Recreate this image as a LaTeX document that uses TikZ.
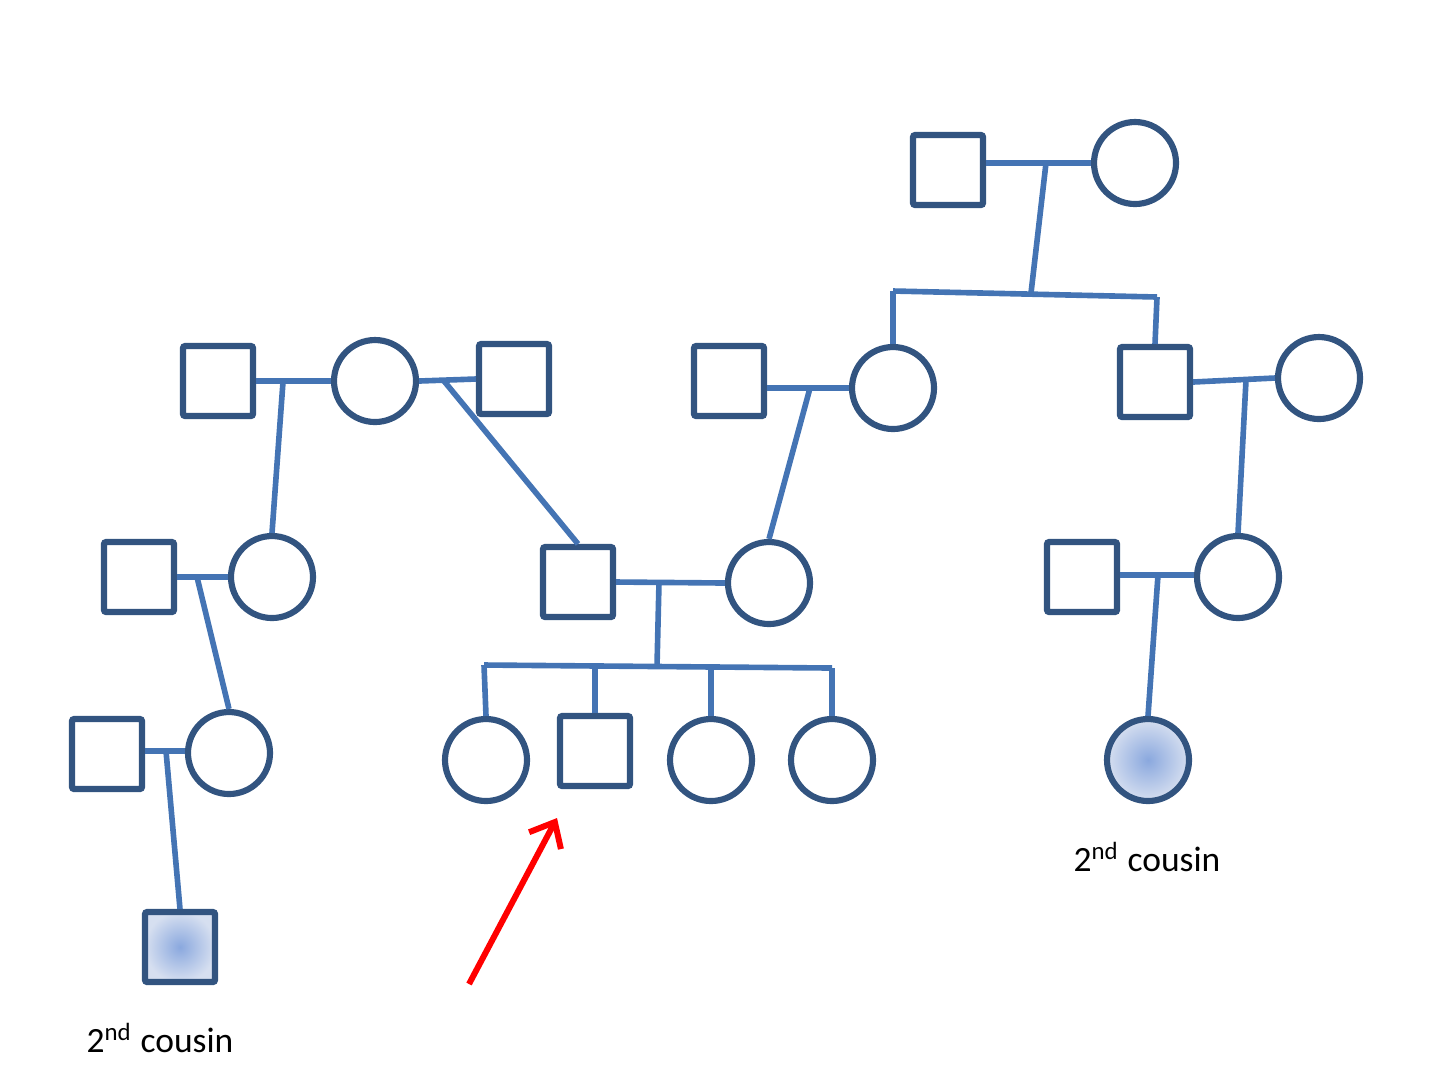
\documentclass[tikz,border=0pt]{standalone}
\usepackage{fontspec}
\setmainfont{Carlito}
\usepackage{tikz}
\usetikzlibrary{arrows.meta}

\definecolor{pedline}{RGB}{68,116,180}
\definecolor{peddark}{RGB}{50,84,128}
\definecolor{pedshade}{RGB}{138,168,222}
\definecolor{pedpale}{RGB}{214,223,240}

\begin{document}
\begin{tikzpicture}[x=1cm,y=-1cm,
    sq_male/.style ={rectangle, draw=peddark, line width=1.75pt, fill=white,
      minimum size=0.70cm, inner sep=0pt, rounded corners=0.6pt},
    ci_female/.style ={circle, draw=peddark, line width=1.75pt, fill=white,
      minimum size=0.82cm, inner sep=0pt},
    affected/.style ={shade, inner color=pedshade, outer color=pedpale},
    cousin_label/.style ={font=\fontsize{10.1}{12}\selectfont, inner sep=0pt},
    link/.style ={draw=pedline, line width=1.6pt},
    red_arrow/.style ={draw=red, line width=1.7pt, -{Straight Barb[length=2.1mm,width=3.6mm]}}]
    \useasboundingbox (0,0) rectangle (14.5,10.9);
    % generation 1
    \node [sq_male] (g1m) at (9.48,1.70) {};
    \node [ci_female] (g1f) at (11.35,1.63) {};
    % generation 2
    \node [sq_male] (a2m) at (2.18,3.81) {};
    \node [ci_female] (a2f) at (3.75,3.81) {};
    \node [sq_male] (a2n) at (5.14,3.79) {};
    \node [sq_male] (b2m) at (7.29,3.81) {};
    \node [ci_female] (b2f) at (8.93,3.88) {};
    \node [sq_male] (c2m) at (11.55,3.82) {};
    \node [ci_female] (c2f) at (13.19,3.78) {};
    % generation 3
    \node [sq_male] (a3m) at (1.39,5.77) {};
    \node [ci_female] (a3f) at (2.72,5.77) {};
    \node [sq_male] (b3m) at (5.78,5.82) {};
    \node [ci_female] (b3f) at (7.69,5.83) {};
    \node [sq_male] (c3m) at (10.82,5.77) {};
    \node [ci_female] (c3f) at (12.38,5.77) {};
    % generation 4
    \node [sq_male] (a4m) at (1.07,7.54) {};
    \node [ci_female] (a4f) at (2.29,7.53) {};
    \node [ci_female] (kid1) at (4.86,7.60) {};
    \node [sq_male] (kid2) at (5.95,7.51) {};
    \node [ci_female] (kid3) at (7.11,7.60) {};
    \node [ci_female] (kid4) at (8.32,7.60) {};
    \node [ci_female, affected] (cousin_r) at (11.48,7.60) {};
    % generation 5
    \node [sq_male, affected] (cousin_l) at (1.80,9.47) {};
    % labels
    \node [cousin_label] (lbl_l) at (1.60,10.38) {2\textsuperscript{nd} cousin};
    \node [cousin_label] (lbl_r) at (11.47,8.57) {2\textsuperscript{nd} cousin};
    % junction points on the lines
    \coordinate (j_g1) at (10.46,1.63);
    \coordinate (s_g1a) at (8.93,2.91);
    \coordinate (s_g1b) at (11.57,2.97);
    \coordinate (s_g1) at (10.31,2.93);
    \coordinate (j_a2) at (2.83,3.82);
    \coordinate (j_a2n) at (4.44,3.81);
    \coordinate (j_b2) at (8.10,3.88);
    \coordinate (j_c2) at (12.46,3.80);
    \coordinate (j_a3) at (1.97,5.77);
    \coordinate (j_b3) at (6.59,5.82);
    \coordinate (j_c3) at (11.58,5.75);
    \coordinate (j_a4) at (1.66,7.51);
    \coordinate (s_b3a) at (4.84,6.65);
    \coordinate (s_b3b) at (8.32,6.68);
    \coordinate (s_b3) at (6.57,6.66);
    \coordinate (arr_tail) at (4.69,9.84);
    \coordinate (arr_tip) at (5.57,8.18);
    % connecting nodes with lines
    \begin{scope}[every path/.style=link]
     \path (g1m.east |- g1f.west) -- (g1f.west);
     \path (j_g1) -- (s_g1);
     \path (s_g1a) -- (s_g1b);
     \path (s_g1a) -- (b2f.north);
     \path (s_g1b) -- (c2m.north);
     \path (a2m.east) -- (a2f.west);
     \path (a2f.east) -- (a2n.west);
     \path (j_a2) -- (a3f.north);
     \path (j_a2n) -- (b3m.north);
     \path (b2m.east |- b2f.west) -- (b2f.west);
     \path (j_b2) -- (b3f.north);
     \path (c2m.east) -- (c2f.west);
     \path (j_c2) -- (c3f.north);
     \path (a3m.east) -- (a3f.west);
     \path (j_a3) -- (a4f.north);
     \path (b3m.east) -- (b3f.west);
     \path (j_b3) -- (s_b3);
     \path (s_b3a) -- (s_b3b);
     \path (s_b3a) -- (kid1.north);
     \path (kid2.north |- s_b3) -- (kid2.north);
     \path (kid3.north |- s_b3) -- (kid3.north);
     \path (s_b3b) -- (kid4.north);
     \path (c3m.east |- j_c3) -- (c3f.west |- j_c3);
     \path (j_c3) -- (cousin_r.north);
     \path (a4m.east |- j_a4) -- (a4f.west |- j_a4);
     \path (j_a4) -- (cousin_l.north);
    \end{scope}
    \path [red_arrow] (arr_tail) -- (arr_tip);
\end{tikzpicture}
\end{document}
